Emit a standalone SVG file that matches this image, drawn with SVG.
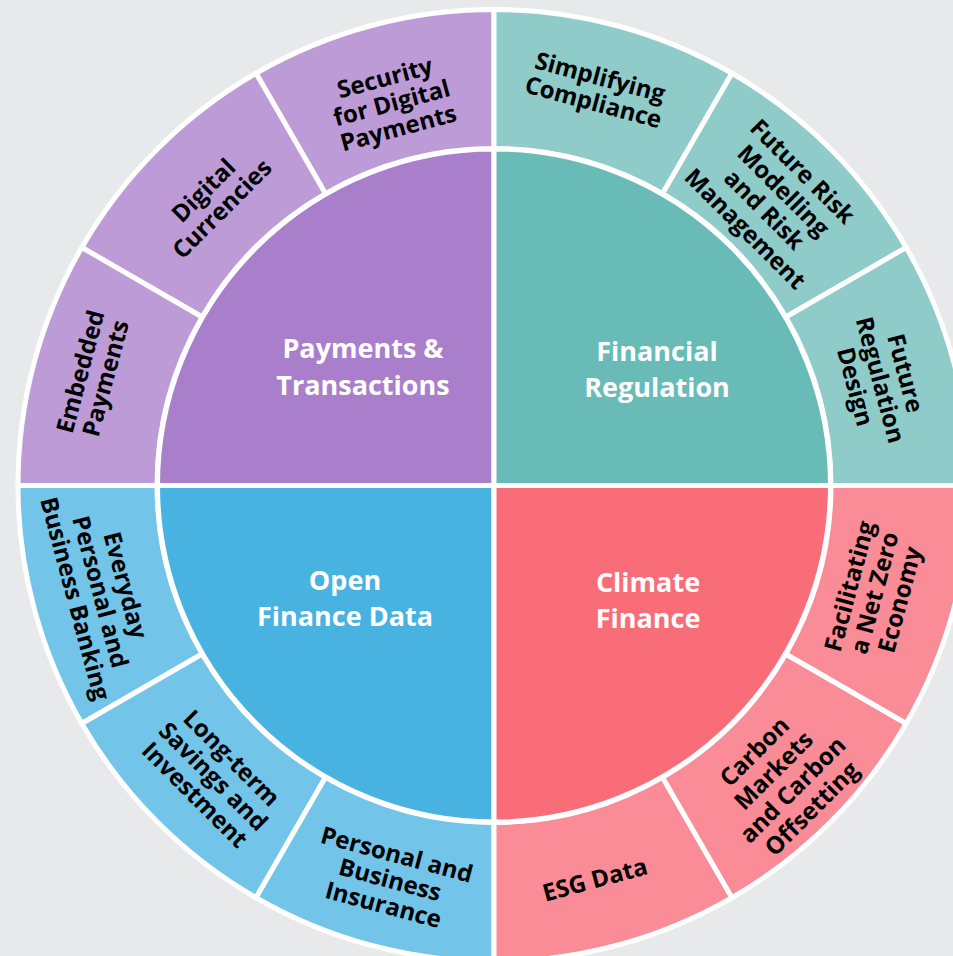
<svg xmlns="http://www.w3.org/2000/svg" width="953" height="956" viewBox="0 0 953 956">
<style>
.seg{stroke:#fff;stroke-width:5;stroke-linejoin:round}
.pay-o{fill:#bd9bd6}.pay-i{fill:#a97fcb}
.reg-o{fill:#8fcbc8}.reg-i{fill:#68bbb6}
.opn-o{fill:#72c5e9}.opn-i{fill:#48b2e1}
.cli-o{fill:#f98c96}.cli-i{fill:#f96d79}
.ol{font-family:"Open Sans","Noto Sans","Liberation Sans",sans-serif;font-weight:700;font-size:24px;fill:#000;text-anchor:middle}
.il{font-family:"Open Sans","Noto Sans","Liberation Sans",sans-serif;font-weight:700;font-size:27px;fill:#fff;text-anchor:middle}
</style>
<rect width="953" height="956" fill="#e8e9eb"/>
<g id="connectors"/>
<g id="outer-ring">
<g id="seg-security">
<path class="seg pay-o" d="M494,9.5 A476,476 0 0 0 256,73.27 L325.5,193.65 A337,337 0 0 1 494,148.5 Z"/>
<text class="ol" transform="translate(391.7,103.3) rotate(-15)"><tspan x="0" y="-18">Security</tspan><tspan x="0" y="8">for Digital</tspan><tspan x="0" y="34">Payments</tspan></text>
</g>
<g id="seg-digital-currencies">
<path class="seg pay-o" d="M256,73.27 A476,476 0 0 0 81.77,247.5 L202.15,317 A337,337 0 0 1 325.5,193.65 Z"/>
<text class="ol" transform="translate(213,200) rotate(-45)"><tspan x="0" y="-5">Digital</tspan><tspan x="0" y="21">Currencies</tspan></text>
</g>
<g id="seg-embedded">
<path class="seg pay-o" d="M81.77,247.5 A476,476 0 0 0 18,485.5 L157,485.5 A337,337 0 0 1 202.15,317 Z"/>
<text class="ol" transform="translate(93.3,375) rotate(-75)"><tspan x="0" y="-5">Embedded</tspan><tspan x="0" y="21">Payments</tspan></text>
</g>
<g id="seg-simplifying">
<path class="seg reg-o" d="M732,73.27 A476,476 0 0 0 494,9.5 L494,148.5 A337,337 0 0 1 662.5,193.65 Z"/>
<text class="ol" transform="translate(596.7,90) rotate(15)"><tspan x="0" y="-5">Simplifying</tspan><tspan x="0" y="21">Compliance</tspan></text>
</g>
<g id="seg-future-risk">
<path class="seg reg-o" d="M906.23,247.5 A476,476 0 0 0 732,73.27 L662.5,193.65 A337,337 0 0 1 785.85,317 Z"/>
<text class="ol" transform="translate(774,200) rotate(45)"><tspan x="0" y="-32">Future Risk</tspan><tspan x="0" y="-5">Modelling</tspan><tspan x="0" y="22">and Risk</tspan><tspan x="0" y="49">Management</tspan></text>
</g>
<g id="seg-future-regulation">
<path class="seg reg-o" d="M970,485.5 A476,476 0 0 0 906.23,247.5 L785.85,317 A337,337 0 0 1 831,485.5 Z"/>
<text class="ol" transform="translate(880,380) rotate(75)"><tspan x="0" y="-18">Future</tspan><tspan x="0" y="8">Regulation</tspan><tspan x="0" y="34">Design</tspan></text>
</g>
<g id="seg-everyday">
<path class="seg opn-o" d="M18,485.5 A476,476 0 0 0 81.77,723.5 L202.15,654 A337,337 0 0 1 157,485.5 Z"/>
<text class="ol" transform="translate(100,592) rotate(75)"><tspan x="0" y="-18">Everyday</tspan><tspan x="0" y="8">Personal and</tspan><tspan x="0" y="34">Business Banking</tspan></text>
</g>
<g id="seg-long-term">
<path class="seg opn-o" d="M81.77,723.5 A476,476 0 0 0 256,897.73 L325.5,777.35 A337,337 0 0 1 202.15,654 Z"/>
<text class="ol" transform="translate(213,776.7) rotate(45)"><tspan x="0" y="-18">Long-term</tspan><tspan x="0" y="8">Savings and</tspan><tspan x="0" y="34">Investment</tspan></text>
</g>
<g id="seg-insurance">
<path class="seg opn-o" d="M256,897.73 A476,476 0 0 0 494,961.5 L494,822.5 A337,337 0 0 1 325.5,777.35 Z"/>
<text class="ol" transform="translate(390,880) rotate(15)"><tspan x="0" y="-18">Personal and</tspan><tspan x="0" y="8">Business</tspan><tspan x="0" y="34">Insurance</tspan></text>
</g>
<g id="seg-esg">
<path class="seg cli-o" d="M494,961.5 A476,476 0 0 0 732,897.73 L662.5,777.35 A337,337 0 0 1 494,822.5 Z"/>
<text class="ol" transform="translate(595,880) rotate(-15)"><tspan x="0" y="8">ESG Data</tspan></text>
</g>
<g id="seg-carbon">
<path class="seg cli-o" d="M732,897.73 A476,476 0 0 0 906.23,723.5 L785.85,654 A337,337 0 0 1 662.5,777.35 Z"/>
<text class="ol" transform="translate(783,780) rotate(-45)"><tspan x="0" y="-32">Carbon</tspan><tspan x="0" y="-5">Markets</tspan><tspan x="0" y="22">and Carbon</tspan><tspan x="0" y="49">Offsetting</tspan></text>
</g>
<g id="seg-net-zero">
<path class="seg cli-o" d="M906.23,723.5 A476,476 0 0 0 970,485.5 L831,485.5 A337,337 0 0 1 785.85,654 Z"/>
<text class="ol" transform="translate(875,593) rotate(-75)"><tspan x="0" y="-18">Facilitating</tspan><tspan x="0" y="8">a Net Zero</tspan><tspan x="0" y="34">Economy</tspan></text>
</g>
</g>
<g id="inner">
<g id="payments-transactions">
<path class="seg pay-i" d="M494,485.5 L494,149 A336.5,336.5 0 0 0 157.5,485.5 Z"/>
<text class="il"><tspan x="363" y="358">Payments &amp;</tspan><tspan x="363" y="395">Transactions</tspan></text>
</g>
<g id="financial-regulation">
<path class="seg reg-i" d="M494,485.5 L830.5,485.5 A336.5,336.5 0 0 0 494,149 Z"/>
<text class="il"><tspan x="657" y="361">Financial</tspan><tspan x="657" y="397">Regulation</tspan></text>
</g>
<g id="open-finance-data">
<path class="seg opn-i" d="M494,485.5 L157.5,485.5 A336.5,336.5 0 0 0 494,822 Z"/>
<text class="il"><tspan x="345" y="590">Open</tspan><tspan x="345" y="626">Finance Data</tspan></text>
</g>
<g id="climate-finance">
<path class="seg cli-i" d="M494,485.5 L494,822 A336.5,336.5 0 0 0 830.5,485.5 Z"/>
<text class="il"><tspan x="648" y="592">Climate</tspan><tspan x="648" y="628">Finance</tspan></text>
</g>
</g>
</svg>
